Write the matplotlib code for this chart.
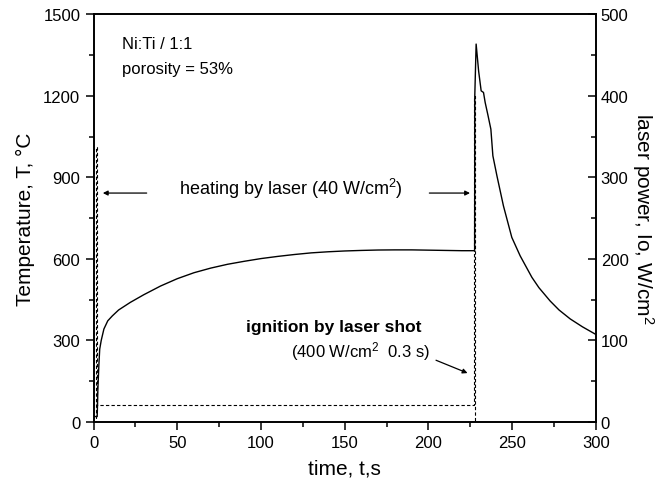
import matplotlib
matplotlib.use('Agg')
import matplotlib.pyplot as plt

plt.rcParams['font.family'] = ['Liberation Sans', 'DejaVu Sans']
plt.rcParams['mathtext.fontset'] = 'custom'
plt.rcParams['mathtext.rm'] = 'Liberation Sans'
plt.rcParams['mathtext.it'] = 'Liberation Sans'

# temperature curve, time in s, T in deg C
t_temp = [0, 2.2, 2.6, 3.2, 3.7, 4.6, 6.2, 8.5, 11.2, 15, 22, 30, 40, 50, 60, 70, 80,
          90, 100, 110, 120, 130, 140, 150, 160, 170, 180, 190, 200, 210, 220,
          227.6, 227.7, 228.5, 230, 231.5, 232.9, 233.9, 235.5, 237.3, 238.5, 240.9,
          244.8, 249.8, 254.8, 261.8, 266, 272.7, 278, 284.7, 292, 300]
temp = [20, 20, 120, 210, 268, 300, 342, 372, 390, 412, 440, 468, 500, 527, 549, 566, 580,
        591, 601, 609, 616, 622, 626, 629, 631, 632.5, 633, 633, 632, 631, 630,
        630, 1200, 1390, 1290, 1218, 1212, 1175, 1130, 1077, 979, 906,
        795, 679, 611, 532, 494, 445, 412, 379, 350, 322]

# laser power profile, W/cm2
t_laser = [0, 1.5, 1.5, 1.9, 1.9, 227.5, 227.5, 227.9, 227.9]
p_laser = [0, 0, 337, 337, 20.5, 20.5, 400, 400, 0]

fig = plt.figure(figsize=(6.68, 4.89), dpi=100)
ax = fig.add_axes([0.140, 0.135, 0.752, 0.834])
ax2 = ax.twinx()

ax.plot(t_temp, temp, color='black', lw=1.0)
ax2.plot(t_laser, p_laser, color='black', lw=0.8, linestyle=(0, (3, 2)))

ax.set_xlim(0, 300)
ax.set_ylim(0, 1500)
ax2.set_ylim(0, 500)

ax.set_xticks([0, 50, 100, 150, 200, 250, 300])
ax.set_xticks(range(25, 300, 50), minor=True)
ax.set_yticks([0, 300, 600, 900, 1200, 1500])
ax.set_yticks(range(150, 1500, 300), minor=True)
ax2.set_yticks([0, 100, 200, 300, 400, 500])
ax2.set_yticks(range(50, 500, 100), minor=True)

ax.tick_params(which='major', direction='out', length=6, width=1.1, labelsize=12, top=False)
ax.tick_params(which='minor', direction='out', length=3.5, width=1.1, top=False)
ax2.tick_params(which='major', direction='in', length=6, width=1.1, labelsize=12)
ax2.tick_params(which='minor', direction='in', length=3.5, width=1.1)

for sp in ax.spines.values():
    sp.set_linewidth(1.2)
for sp in ax2.spines.values():
    sp.set_linewidth(1.2)

ax.set_xlabel('time, t,s', fontsize=15, labelpad=6)
ax.set_ylabel('Temperature, T, °C', fontsize=15, labelpad=6)
ax2.set_ylabel('laser power, Io, W/cm$^2$', fontsize=15, rotation=270, labelpad=20)

ax.text(17, 1392, 'Ni:Ti / 1:1', fontsize=12, va='center')
ax.text(17, 1299, 'porosity = 53%', fontsize=12, va='center')

ax.text(118, 862, 'heating by laser (40 W/cm$^2$)', fontsize=13, ha='center', va='center')
ax.annotate('', xy=(3.9, 842), xytext=(33.4, 842),
            arrowprops=dict(arrowstyle='-|>', color='black', lw=0.9, mutation_scale=7))
ax.annotate('', xy=(226.5, 842), xytext=(198.9, 842),
            arrowprops=dict(arrowstyle='-|>', color='black', lw=0.9, mutation_scale=7))

ax.text(143.6, 353, 'ignition by laser shot', fontsize=12.5, fontweight='bold',
        ha='center', va='center')
ax.text(159.5, 262, '(400 W/cm$^2$  0.3 s)', fontsize=12, ha='center', va='center')
ax.annotate('', xy=(224.9, 176), xytext=(203, 231),
            arrowprops=dict(arrowstyle='-|>', color='black', lw=0.9, mutation_scale=7))

fig.savefig('out.png', dpi=100)
